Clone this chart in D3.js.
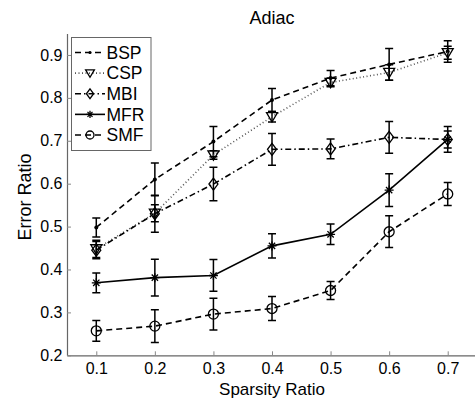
<!DOCTYPE html>
<html><head><meta charset="utf-8">
<script src="https://cdn.jsdelivr.net/npm/d3@7"></script>
<style>body{margin:0;background:#fff}svg{display:block}</style>
</head><body><svg id="c" width="475" height="400"></svg>
<script>
const sparsity = [0.1, 0.2, 0.3, 0.4, 0.5, 0.6, 0.7];
const yTicks = [0.2, 0.3, 0.4, 0.5, 0.6, 0.7, 0.8, 0.9];
const seriesNames = ["BSP", "CSP", "MBI", "MFR", "SMF"];
const bspValues = [0.498, 0.610, 0.698, 0.795, 0.846, 0.878, 0.908];
const bspErr    = [0.022, 0.038, 0.035, 0.027, 0.018, 0.037, 0.025];
const cspValues = [0.448, 0.531, 0.667, 0.756, 0.836, 0.859, 0.905];
const cspErr    = [0.020, 0.020, 0.010, 0.012, 0.010, 0.018, 0.015];
const mbiValues = [0.445, 0.530, 0.599, 0.680, 0.681, 0.708, 0.703];
const mbiErr    = [0.020, 0.043, 0.039, 0.037, 0.023, 0.037, 0.020];
const mfrValues = [0.369, 0.381, 0.386, 0.455, 0.482, 0.585, 0.703];
const mfrErr    = [0.023, 0.043, 0.037, 0.028, 0.024, 0.038, 0.030];
const smfValues = [0.257, 0.268, 0.296, 0.309, 0.351, 0.488, 0.576];
const smfErr    = [0.024, 0.038, 0.037, 0.028, 0.021, 0.037, 0.027];

const series = [
  {name: seriesNames[0], v: bspValues, e: bspErr, dash: "6,4", color: "#000", marker: "dot"},
  {name: seriesNames[1], v: cspValues, e: cspErr, dash: "1,2.5", color: "#555", marker: "tri"},
  {name: seriesNames[2], v: mbiValues, e: mbiErr, dash: "6,3,1.5,3", color: "#000", marker: "diamond"},
  {name: seriesNames[3], v: mfrValues, e: mfrErr, dash: null, color: "#000", marker: "star"},
  {name: seriesNames[4], v: smfValues, e: smfErr, dash: "6,4", color: "#000", marker: "circle"}
];

const svg = d3.select("#c");
const font = "'Liberation Sans', Arial, Helvetica, sans-serif";
const x = d3.scaleLinear().domain([0.05, 0.75]).range([67, 477]);
const y = d3.scaleLinear().domain([0.2, 0.95]).range([355.3, 33.5]);

// axes
const ax = svg.append("g").attr("transform", "translate(0,355.3)")
  .call(d3.axisBottom(x).tickValues(sparsity).tickFormat(d3.format(".1f")).tickSize(-4).tickSizeOuter(0).tickPadding(7.5));
const ay = svg.append("g").attr("transform", "translate(67,0)")
  .call(d3.axisLeft(y).tickValues(yTicks).tickFormat(d3.format(".1f")).tickSize(-4).tickSizeOuter(0).tickPadding(4.5));
[ax, ay].forEach(g => {
  g.selectAll("path.domain").attr("stroke", "#666").attr("stroke-width", 1.2);
  g.selectAll(".tick line").attr("stroke", "#888");
  g.selectAll("text").attr("fill", "#000").style("font-family", font).style("font-size", "16px");
});

function markerPath(type, s) {
  if (type === "tri") return `M${-s},${-s*0.75}L${s},${-s*0.75}L0,${s*0.95}Z`;
  if (type === "diamond") return `M0,${-s}L${s*0.75},0L0,${s}L${-s*0.75},0Z`;
  if (type === "star") {
    const a = s*0.7;
    return `M${-s},0L${s},0M0,${-s}L0,${s}M${-a},${-a}L${a},${a}M${-a},${a}L${a},${-a}`;
  }
  return null;
}
function drawMarker(g, type, cx, cy, color, k = 1) {
  if (type === "dot") {
    g.append("circle").attr("cx", cx).attr("cy", cy).attr("r", 2 * k).attr("fill", "#000");
  } else if (type === "circle") {
    g.append("circle").attr("cx", cx).attr("cy", cy).attr("r", 5 * k).attr("fill", "none").attr("stroke", "#000").attr("stroke-width", 1.3);
  } else {
    const sz = (type === "star" ? 4.5 : (type === "tri" ? 5.5 : 6)) * k;
    g.append("path").attr("transform", `translate(${cx},${cy})`).attr("d", markerPath(type, sz))
      .attr("fill", "none").attr("stroke", "#000").attr("stroke-width", 1.3);
  }
}

const plot = svg.append("g");
const line = d3.line().x((d, i) => x(sparsity[i])).y(d => y(d));
series.forEach(s => {
  const g = plot.append("g");
  s.v.forEach((v, i) => {
    const cx = x(sparsity[i]), y1 = y(v + s.e[i]), y0 = y(v - s.e[i]);
    g.append("path").attr("d", `M${cx},${y1}L${cx},${y0}M${cx-4},${y1}L${cx+4},${y1}M${cx-4},${y0}L${cx+4},${y0}`)
      .attr("stroke", "#000").attr("stroke-width", 1.5).attr("fill", "none");
  });
  g.append("path").datum(s.v).attr("d", line).attr("fill", "none")
    .attr("stroke", s.color).attr("stroke-width", 1.6).attr("stroke-dasharray", s.dash);
  s.v.forEach((v, i) => drawMarker(g, s.marker, x(sparsity[i]), y(v), s.color));
});

// legend
const lg = svg.append("g");
lg.append("rect").attr("x", 71.5).attr("y", 37.5).attr("width", 79.5).attr("height", 113)
  .attr("fill", "#fff").attr("stroke", "#666").attr("stroke-width", 1);
const ly = d3.scalePoint().domain(seriesNames).range([52.5, 135]);
series.forEach(s => {
  const yy = ly(s.name);
  lg.append("line").attr("x1", 75).attr("x2", 105).attr("y1", yy).attr("y2", yy)
    .attr("stroke", s.color).attr("stroke-width", 1.6).attr("stroke-dasharray", s.dash);
  drawMarker(lg, s.marker, 90, yy, s.color, 0.8);
  lg.append("text").attr("x", 106.5).attr("y", yy).attr("dy", "0.36em").text(s.name)
    .style("font-family", font).style("font-size", "17.5px");
});

// labels
svg.append("text").attr("x", 272).attr("y", 24).attr("text-anchor", "middle").text("Adiac")
  .style("font-family", font).style("font-size", "18px");
svg.append("text").attr("x", 272).attr("y", 394.5).attr("text-anchor", "middle").text("Sparsity Ratio")
  .style("font-family", font).style("font-size", "17px");
svg.append("text").attr("transform", "translate(31,197) rotate(-90)").attr("text-anchor", "middle").text("Error Ratio")
  .style("font-family", font).style("font-size", "18px");
</script></body></html>
